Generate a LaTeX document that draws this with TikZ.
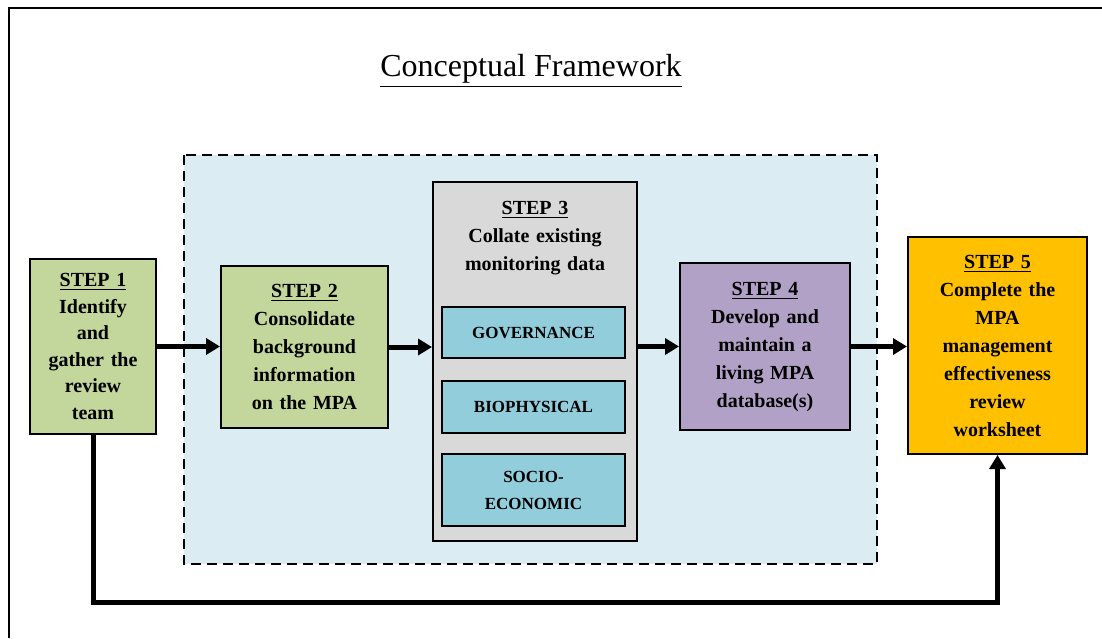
\documentclass[tikz,border=0pt]{standalone}
\usepackage{fontspec}
\setmainfont{Liberation Serif}
\usetikzlibrary{positioning, arrows.meta}
\usetikzlibrary{calc}
\definecolor{stepgreen}{HTML}{C3D69B}
\definecolor{stepgray}{HTML}{D9D9D9}
\definecolor{stepblue}{HTML}{92CDDC}
\definecolor{steppurple}{HTML}{B2A1C7}
\definecolor{stepgold}{HTML}{FFC000}
\definecolor{zoneblue}{HTML}{DBEDF3}
\tikzset{
stepbox/.style={draw, line width=1pt, align=center, inner sep=2pt, font=\bfseries\fontsize{10}{14}\selectfont}, % sets the properties for each step box
databox/.style={draw, line width=1pt, fill=stepblue, align=center, minimum width=91.5pt, font=\bfseries\fontsize{8.5}{13.5}\selectfont}, % boxes inside step 3
flow/.style={line width=2.5pt, -{Triangle[length=7pt,width=8pt]}}, % thick arrows between the steps
}

\begin{document}
\begin{tikzpicture}[x=0.5pt, y=-0.5pt]
    \useasboundingbox (0,0) rectangle (1102,638);
    \draw[line width=1pt] (9,638) -- (9,8) -- (1102,8);
    \node (title) at (531,71) {\fontsize{16}{18}\selectfont\underline{Conceptual Framework}};
    \draw[dashed, line width=1.2pt, dash pattern=on 5pt off 3pt, fill=zoneblue] (184,155) rectangle (877,564);
    \node[stepbox, fill=stepgreen, minimum width=63pt, minimum height=87.5pt, text width=56pt, font=\bfseries\fontsize{10}{13.3}\selectfont] (step1) at (93,346.5) {\underline{STEP 1}\\Identify\\and\\gather the\\review\\team};
    \node[stepbox, fill=stepgreen, minimum width=83.5pt, minimum height=81pt, text width=76pt] (step2) at (304.5,347) {\underline{STEP 2}\\Consolidate\\background\\information\\on the MPA};
    \node[stepbox, fill=stepgray, minimum width=102pt, minimum height=179.5pt] (step3) at (535,361.5) {};
    \node[stepbox, draw=none, below=7.5pt of step3.north, text width=95pt] (step3txt) {\underline{STEP 3}\\Collate existing\\monitoring data};
    \node[databox, minimum height=25.5pt] (gov) at (533.5,332.5) {GOVERNANCE};
    \node[databox, minimum height=26pt] (bio) at (533.5,407) {BIOPHYSICAL};
    \node[databox, minimum height=36pt] (socio) at (533.5,490) {SOCIO-\\ECONOMIC};
    \node[stepbox, fill=steppurple, minimum width=85pt, minimum height=83.5pt, text width=80pt] (step4) at (765,346.5) {\underline{STEP 4}\\Develop and\\maintain a\\living MPA\\database(s)};
    \node[stepbox, fill=stepgold, minimum width=89.5pt, minimum height=108.5pt, text width=84pt] (step5) at (997.5,345.5) {\underline{STEP 5}\\Complete the\\MPA\\management\\effectiveness\\review\\worksheet};
    \coordinate (loop) at (500,602);
    \draw[flow] (step1.east) -- (step1.east -| step2.west);
    \draw[flow] (step2.east) -- (step2.east -| step3.west);
    \draw[flow] (step3.east |- step4.west) -- (step4.west);
    \draw[flow] (step4.east) -- (step4.east -| step5.west);
    \draw[flow] (step1.south) |- (loop) -| (step5.south);
\end{tikzpicture}
\end{document}
